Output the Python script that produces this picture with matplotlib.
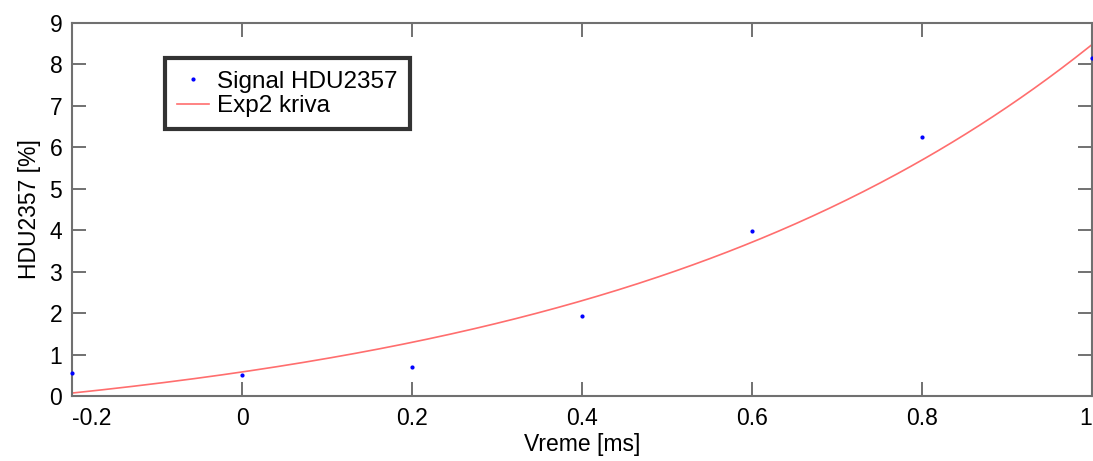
import numpy as np
import matplotlib.pyplot as plt

plt.rcParams['font.family'] = ['Liberation Sans', 'DejaVu Sans']

# measured signal samples
vreme = [-0.2, 0.0, 0.2, 0.4, 0.6, 0.8, 1.0]
signal = [0.56, 0.51, 0.70, 1.93, 3.98, 6.26, 8.16]

# exp2 fit coefficients: a*exp(b*x) + c*exp(d*x)
fit_a, fit_b, fit_c, fit_d = 1.766, 1.7, -1.186, 0.0

x_ticks = [-0.2, 0, 0.2, 0.4, 0.6, 0.8, 1]
x_labels = ['-0.2', '0', '0.2', '0.4', '0.6', '0.8', '1']
y_ticks = list(range(10))

fig = plt.figure(figsize=(10.93, 4.61), dpi=100)
ax = fig.add_axes([0.0659, 0.141, 0.9332, 0.809])

xs = np.linspace(-0.2, 1.0, 300)
curve = fit_a * np.exp(fit_b * xs) + fit_c * np.exp(fit_d * xs)

ax.plot(vreme, signal, '.', color='blue', markersize=4, label='Signal HDU2357', clip_on=False, zorder=3)
ax.plot(xs, curve, '-', color='#ff6e6e', linewidth=1.2, label='Exp2 kriva')

ax.set_xlim(-0.2, 1.0)
ax.set_ylim(0, 9)
ax.set_xticks(x_ticks)
ax.set_xticklabels(x_labels)
ax.set_yticks(y_ticks)
ax.get_xticklabels()[0].set_horizontalalignment('left')
ax.get_xticklabels()[-1].set_horizontalalignment('right')

ax.tick_params(direction='in', length=10, width=1.3, color='#666666',
               top=True, right=True, labelsize=16.5)
ax.tick_params(axis='x', pad=8)
ax.tick_params(axis='y', pad=7)
for s in ax.spines.values():
    s.set_color('#707070')
    s.set_linewidth(1.5)

ax.set_xlabel('Vreme [ms]', fontsize=16.5, labelpad=2)
ax.set_ylabel('HDU2357 [%]', fontsize=16.5, labelpad=6)

leg = ax.legend(loc='upper left', bbox_to_anchor=(0.091, 0.905), fontsize=17.5,
                frameon=True, fancybox=False, borderpad=0.5, handlelength=1.3,
                labelspacing=0.1, handletextpad=0.35, borderaxespad=0)
leg.get_frame().set_edgecolor('black')
leg.get_frame().set_linewidth(3)

fig.savefig('out.png', dpi=100)
